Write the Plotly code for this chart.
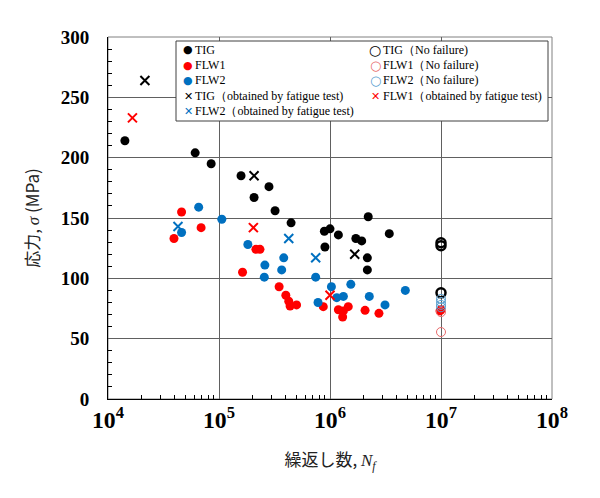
import plotly.graph_objects as go

# ---- data ----
tig_n = [1.42e4, 6.1e4, 8.5e4, 1.58e5, 2.07e5, 2.82e5, 3.2e5, 4.46e5, 8.9e5, 1.0e6,
         1.19e6, 1.71e6, 1.93e6, 9.0e5, 2.21e6, 3.42e6, 2.17e6, 2.17e6]
tig_s = [214, 204, 195, 185, 167, 176, 156, 146, 139, 141,
         136, 133, 131, 126, 151, 137, 117, 107]

flw1_n = [3.93e4, 4.6e4, 6.9e4, 1.63e5, 2.15e5, 2.34e5, 3.48e5, 4.0e5, 4.25e5, 4.37e5,
          5.0e5, 8.7e5, 1.19e6, 1.32e6, 1.46e6, 1.3e6, 2.07e6, 2.76e6, 9.8e6, 1.0e7]
flw1_s = [133, 155, 142, 105, 124, 124, 93, 86, 81, 77,
          78, 76.5, 74, 73, 76.5, 68, 73.5, 71, 73, 74]

flw2_n = [4.6e4, 6.56e4, 1.06e5, 1.82e5, 2.59e5, 2.56e5, 3.83e5, 3.67e5, 7.43e5, 1.03e6,
          1.54e6, 7.8e5, 1.15e6, 1.32e6, 2.26e6, 3.13e6, 4.77e6]
flw2_s = [138, 159, 149, 128, 111, 101, 117, 107, 101, 93,
          95, 80, 84, 85, 85, 78, 90]

tig_nf_n = [1e7, 1e7, 1e7]
tig_nf_s = [129.5, 127, 88]
flw1_nf_n = [1e7, 1e7]
flw1_nf_s = [72, 55.5]
flw2_nf_n = [1e7, 1e7, 1e7, 1e7]
flw2_nf_s = [83, 80.5, 78, 76]

tig_ft_n = [2.15e4, 2.07e5, 1.67e6]
tig_ft_s = [264, 185, 120]
flw1_ft_n = [1.66e4, 2.04e5, 1.0e6]
flw1_ft_s = [233, 142, 86]
flw2_ft_n = [4.27e4, 4.25e5, 7.43e5]
flw2_ft_s = [143, 133, 117]

RED = "#ff0000"
BLUE = "#0070c0"
BLACK = "#000000"
RED_OPEN = "#e86a6a"
BLUE_OPEN = "#5aa0d0"

fig = go.Figure()

def dots(x, y, name, color):
    fig.add_trace(go.Scatter(x=x, y=y, mode="markers", name=name,
                             marker=dict(symbol="circle", size=9, color=color)))

def opens(x, y, name, color, lw):
    fig.add_trace(go.Scatter(x=x, y=y, mode="markers", name=name,
                             marker=dict(symbol="circle-open", size=9, color=color,
                                         line=dict(width=lw, color=color))))

def crosses(x, y, name, color):
    fig.add_trace(go.Scatter(x=x, y=y, mode="markers", name=name,
                             marker=dict(symbol="x-thin-open", size=9, color=color,
                                         line=dict(width=2, color=color))))

dots(tig_n, tig_s, "TIG", BLACK)
dots(flw1_n, flw1_s, "FLW1", RED)
dots(flw2_n, flw2_s, "FLW2", BLUE)
crosses(tig_ft_n, tig_ft_s, "TIG（obtained by fatigue test)", BLACK)
crosses(flw2_ft_n, flw2_ft_s, "FLW2（obtained by fatigue test)", BLUE)
opens(tig_nf_n, tig_nf_s, "TIG（No failure)", BLACK, 2.5)
opens(flw1_nf_n, flw1_nf_s, "FLW1（No failure)", RED_OPEN, 1)
opens(flw2_nf_n, flw2_nf_s, "FLW2（No failure)", BLUE_OPEN, 1)
crosses(flw1_ft_n, flw1_ft_s, "FLW1（obtained by fatigue test)", RED)

# page body has an 8px margin: work in page pixels, convert to figure pixels
OFF = 8
W, H = 592, 490
PL, PR, PT, PB = 108 - OFF, 552 - OFF, 37 - OFF, 399 - OFF
def px(x):
    return (x - OFF - PL) / (PR - PL)
def py(y):
    return (PB - (y - OFF)) / (PB - PT)

legend_left = [("●", BLACK, "TIG", 50, 11, "normal"),
               ("●", RED, "FLW1", 65, 11, "normal"),
               ("●", BLUE, "FLW2", 80, 11, "normal"),
               ("✕", BLACK, "TIG（obtained by fatigue test)", 96, 11, "bold"),
               ("✕", BLUE, "FLW2（obtained by fatigue test)", 111, 11, "bold")]
legend_right = [("○", BLACK, "TIG（No failure)", 50, 14, "bold"),
                ("○", RED_OPEN, "FLW1（No failure)", 65, 13, "normal"),
                ("○", BLUE_OPEN, "FLW2（No failure)", 80, 13, "normal"),
                ("✕", RED, "FLW1（obtained by fatigue test)", 96, 11, "bold")]

annots = []
for col, (mx, tx) in ((legend_left, (188, 193)), (legend_right, (375, 381))):
    for sym, c, label, yy, fs, wt in col:
        annots.append(dict(xref="paper", yref="paper", x=px(mx), y=py(yy),
                           xanchor="center", yanchor="middle", showarrow=False,
                           text=sym, font=dict(family="DejaVu Sans", size=fs, color=c, weight=wt)))
        annots.append(dict(xref="paper", yref="paper", x=px(tx), y=py(yy),
                           xanchor="left", yanchor="middle", showarrow=False,
                           text=label, font=dict(family="Liberation Serif", size=12, color="#000")))

fig.update_layout(
    width=W, height=H,
    margin=dict(l=PL, r=W - PR, t=PT, b=H - PB),
    paper_bgcolor="white", plot_bgcolor="white",
    showlegend=False,
    annotations=annots,
    shapes=[
        dict(type="rect", xref="paper", yref="paper", x0=px(176), x1=px(548),
             y0=py(121), y1=py(41), line=dict(color="#404040", width=1),
             fillcolor="white", layer="above"),
        dict(type="rect", xref="paper", yref="paper", x0=0, x1=1, y0=0, y1=1,
             line=dict(color="#808080", width=1), layer="below"),
    ],
)

fig.update_xaxes(
    type="log", range=[4, 8], dtick=1, exponentformat="power", automargin=False,
    showgrid=True, gridcolor="#606060", gridwidth=1,
    showline=True, linecolor="#000", linewidth=1,
    ticks="inside", ticklen=0,
    minor=dict(ticks="inside", ticklen=4, tickcolor="#000", showgrid=False),
    tickfont=dict(family="Liberation Serif", size=19, color="#000", weight="bold"),
    title=dict(text="繰返し数, <span style='font-family:Liberation Serif'><i>N<sub>f</sub></i></span>",
               font=dict(family="Noto Sans CJK JP", size=17, color="#222"), standoff=22),
    zeroline=False,
)
fig.update_yaxes(
    range=[0, 300], dtick=50, automargin=False,
    showgrid=True, gridcolor="#606060", gridwidth=1,
    showline=True, linecolor="#000", linewidth=1,
    ticks="inside", ticklen=0, ticklabelstandoff=14,
    minor=dict(dtick=10, ticks="inside", ticklen=4, tickcolor="#000", showgrid=False),
    tickfont=dict(family="Liberation Serif", size=19, color="#000", weight="bold"),
    title=dict(text="応力, <span style='font-family:Liberation Serif'><i>σ</i></span> (MPa)",
               font=dict(family="Noto Sans CJK JP", size=17, color="#222"), standoff=16),
    zeroline=False,
)

fig.write_html("out.html")
